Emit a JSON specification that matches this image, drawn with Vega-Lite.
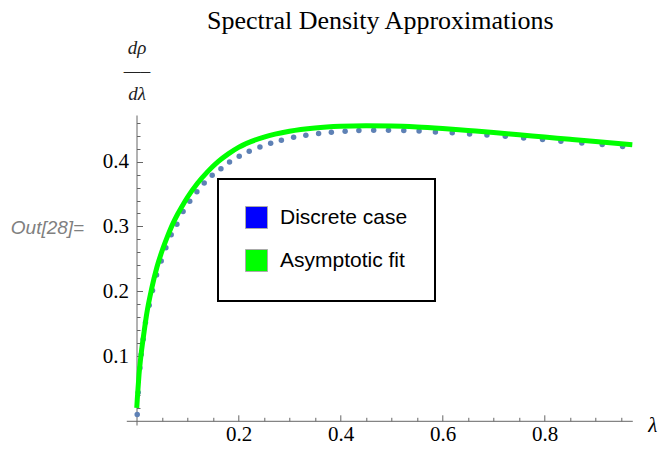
{
  "$schema": "https://vega.github.io/schema/vega-lite/v6.json",
  "width": 506,
  "height": 310,
  "autosize": {"type": "none"},
  "padding": {"left": 126.3, "top": 115, "right": 25.7, "bottom": 24},
  "background": "white",
  "title": {
    "text": "Spectral Density Approximations",
    "font": "Liberation Serif",
    "fontSize": 26,
    "fontWeight": "normal",
    "color": "black",
    "anchor": "middle",
    "dx": 1
  },
  "datasets": {
    "dots": [
      {"x": 0.0014, "y": 0.0096}, {"x": 0.0033, "y": 0.0436}, {"x": 0.0067, "y": 0.0816},
      {"x": 0.0092, "y": 0.1023}, {"x": 0.0131, "y": 0.126}, {"x": 0.0176, "y": 0.1518},
      {"x": 0.0249, "y": 0.1785}, {"x": 0.0314, "y": 0.2012}, {"x": 0.0392, "y": 0.2249},
      {"x": 0.0484, "y": 0.2465}, {"x": 0.0576, "y": 0.2671}, {"x": 0.068, "y": 0.2872},
      {"x": 0.0792, "y": 0.3035}, {"x": 0.0913, "y": 0.323}, {"x": 0.1044, "y": 0.3388},
      {"x": 0.1184, "y": 0.3536}, {"x": 0.1327, "y": 0.3671}, {"x": 0.1484, "y": 0.379},
      {"x": 0.1655, "y": 0.3892}, {"x": 0.1824, "y": 0.3995}, {"x": 0.2014, "y": 0.4083},
      {"x": 0.221, "y": 0.4161}, {"x": 0.242, "y": 0.4227}, {"x": 0.263, "y": 0.4284},
      {"x": 0.284, "y": 0.4332}, {"x": 0.308, "y": 0.4377}, {"x": 0.332, "y": 0.4408},
      {"x": 0.357, "y": 0.4433}, {"x": 0.382, "y": 0.4454}, {"x": 0.409, "y": 0.447},
      {"x": 0.436, "y": 0.4479}, {"x": 0.465, "y": 0.4485}, {"x": 0.494, "y": 0.4485},
      {"x": 0.524, "y": 0.4479}, {"x": 0.554, "y": 0.4474}, {"x": 0.586, "y": 0.4459},
      {"x": 0.619, "y": 0.4446}, {"x": 0.653, "y": 0.4428}, {"x": 0.687, "y": 0.4413},
      {"x": 0.723, "y": 0.4393}, {"x": 0.759, "y": 0.4366}, {"x": 0.796, "y": 0.434},
      {"x": 0.832, "y": 0.4315}, {"x": 0.873, "y": 0.4289}, {"x": 0.913, "y": 0.4263},
      {"x": 0.953, "y": 0.4232}
    ],
    "fit": [
      {"x": 0.0005, "y": 0.02}, {"x": 0.0015, "y": 0.033}, {"x": 0.003, "y": 0.05},
      {"x": 0.005, "y": 0.072}, {"x": 0.0075, "y": 0.092}, {"x": 0.01, "y": 0.109},
      {"x": 0.015, "y": 0.138}, {"x": 0.02, "y": 0.165}, {"x": 0.03, "y": 0.205},
      {"x": 0.04, "y": 0.237}, {"x": 0.05, "y": 0.262}, {"x": 0.06, "y": 0.283},
      {"x": 0.07, "y": 0.302}, {"x": 0.08, "y": 0.318}, {"x": 0.09, "y": 0.332},
      {"x": 0.1, "y": 0.345}, {"x": 0.12, "y": 0.367}, {"x": 0.14, "y": 0.385},
      {"x": 0.16, "y": 0.4}, {"x": 0.18, "y": 0.412}, {"x": 0.2, "y": 0.422},
      {"x": 0.25, "y": 0.438}, {"x": 0.3, "y": 0.447}, {"x": 0.35, "y": 0.452},
      {"x": 0.4, "y": 0.4545}, {"x": 0.45, "y": 0.4553}, {"x": 0.5, "y": 0.455},
      {"x": 0.55, "y": 0.4535}, {"x": 0.6, "y": 0.451}, {"x": 0.65, "y": 0.448},
      {"x": 0.7, "y": 0.445}, {"x": 0.75, "y": 0.4415}, {"x": 0.8, "y": 0.438},
      {"x": 0.85, "y": 0.4345}, {"x": 0.9, "y": 0.431}, {"x": 0.972, "y": 0.4262}
    ],
    "series": [
      {"series": "Discrete case"},
      {"series": "Asymptotic fit"}
    ]
  },
  "layer": [
    {
      "data": {"name": "dots"},
      "mark": {"type": "point", "filled": true, "color": "#5e81b5", "size": 30, "opacity": 1},
      "encoding": {
        "x": {
          "field": "x", "type": "quantitative",
          "scale": {"domain": [-0.02, 0.972], "nice": false, "zero": false},
          "axis": {
            "orient": "bottom", "offset": -4.2, "values": [0.2, 0.4, 0.6, 0.8], "format": ".1f",
            "grid": false, "tickSize": -6, "tickColor": "#666666", "tickWidth": 1,
            "domainColor": "#666666", "domainWidth": 1,
            "labelFont": "Liberation Serif", "labelFontSize": 21, "labelColor": "black",
            "labelPadding": 9, "labelFlush": false, "labelOverlap": false,
            "title": "λ", "titleFont": "Liberation Serif", "titleFontStyle": "italic",
            "titleFontSize": 21, "titleFontWeight": "normal", "titleColor": "black",
            "titleAngle": 0, "titleAlign": "center", "titleBaseline": "middle",
            "titleX": 526, "titleY": 5
          }
        },
        "y": {
          "field": "y", "type": "quantitative",
          "scale": {"domain": [-0.0065, 0.472], "nice": false, "zero": false},
          "axis": {
            "orient": "left", "offset": -10.2, "values": [0.1, 0.2, 0.3, 0.4], "format": ".1f",
            "grid": false, "tickSize": -6, "tickColor": "#666666", "tickWidth": 1,
            "domainColor": "#666666", "domainWidth": 1,
            "labelFont": "Liberation Serif", "labelFontSize": 21, "labelColor": "black",
            "labelPadding": 14, "labelFlush": false, "labelOverlap": false,
            "title": ["dρ", "—–", "dλ"], "titleFont": "Liberation Serif", "titleFontStyle": "italic",
            "titleFontSize": 19, "titleFontWeight": "normal", "titleColor": "#222222",
            "titleLineHeight": 23, "titleAngle": 0, "titleAlign": "center", "titleBaseline": "middle",
            "titleX": 0, "titleY": -68
          }
        }
      }
    },
    {
      "data": {"name": "fit"},
      "mark": {"type": "line", "color": "#00ff00", "strokeWidth": 5, "interpolate": "monotone"},
      "encoding": {
        "x": {
          "field": "x", "type": "quantitative",
          "axis": {
            "orient": "bottom", "offset": -4.2,
            "values": [0.05, 0.1, 0.15, 0.25, 0.3, 0.35, 0.45, 0.5, 0.55, 0.65, 0.7, 0.75, 0.85, 0.9, 0.95],
            "grid": false, "domain": false, "labels": false, "title": null,
            "tickSize": -3.5, "tickColor": "#666666", "tickWidth": 1
          }
        },
        "y": {
          "field": "y", "type": "quantitative",
          "axis": {
            "orient": "left", "offset": -10.2,
            "values": [0.02, 0.04, 0.06, 0.08, 0.12, 0.14, 0.16, 0.18, 0.22, 0.24, 0.26, 0.28, 0.32, 0.34, 0.36, 0.38, 0.42, 0.44, 0.46],
            "grid": false, "domain": false, "labels": false,
            "tickSize": -3.5, "tickColor": "#666666", "tickWidth": 1,
            "title": "Out[28]=", "titleFont": "Liberation Sans", "titleFontStyle": "italic",
            "titleFontSize": 19, "titleFontWeight": "normal", "titleColor": "#808080",
            "titleAngle": 0, "titleAlign": "center", "titleBaseline": "middle",
            "titleX": -89.5, "titleY": 112.7
          }
        }
      }
    },
    {
      "data": {"name": "series"},
      "mark": {"type": "square", "opacity": 0, "filled": true},
      "encoding": {
        "color": {
          "field": "series", "type": "nominal",
          "scale": {"domain": ["Discrete case", "Asymptotic fit"], "range": ["#0000ff", "#00ff00"]},
          "legend": {
            "orient": "none", "legendX": 91.7, "legendY": 64, "title": null,
            "strokeColor": "black", "fillColor": "white", "padding": 27,
            "symbolType": "square", "symbolSize": 484, "symbolOpacity": 1,
            "symbolStrokeColor": "#aaaaaa", "symbolStrokeWidth": 1,
            "labelFont": "Liberation Sans", "labelFontSize": 21, "labelColor": "black",
            "labelOffset": 12, "rowPadding": 16, "labelLimit": 300
          }
        }
      }
    }
  ],
  "resolve": {"axis": {"x": "independent", "y": "independent"}},
  "config": {"view": {"stroke": null}, "legend": {"strokeWidth": 2}}
}
